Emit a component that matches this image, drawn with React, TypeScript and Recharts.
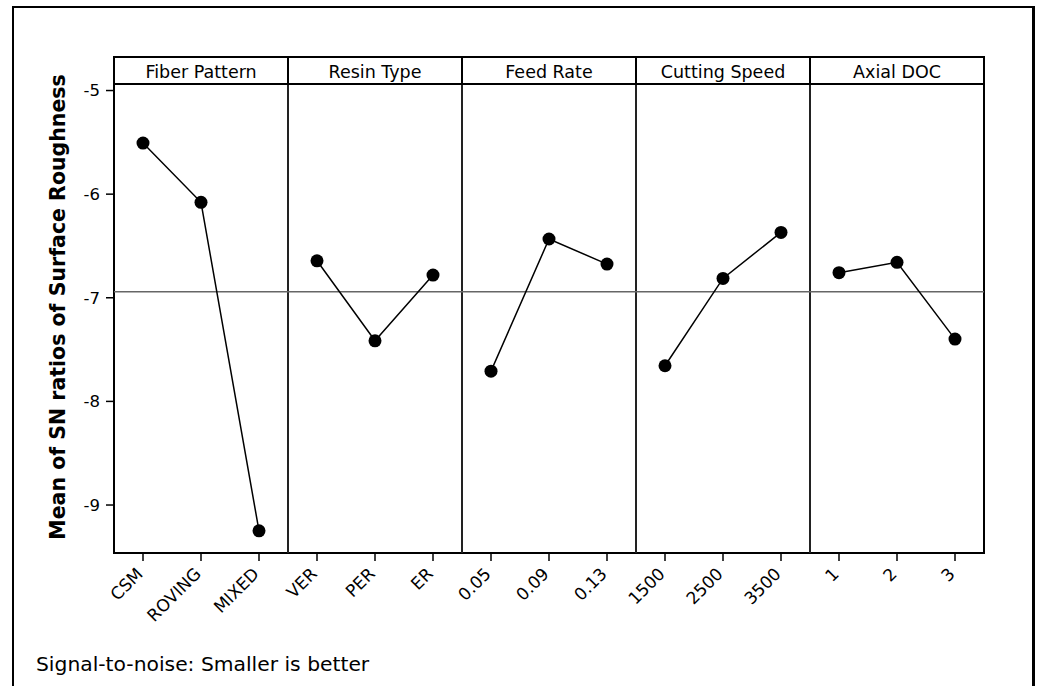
import React from 'react';
import { LineChart, Line, XAxis, YAxis, ReferenceLine, ReferenceArea } from 'recharts';

// ---- Data ----
const FACTORS = ['Fiber Pattern', 'Resin Type', 'Feed Rate', 'Cutting Speed', 'Axial DOC'];

const FIBER_LEVELS = ['CSM', 'ROVING', 'MIXED'];
const FIBER_SN = [-5.507, -6.079, -9.249];

const RESIN_LEVELS = ['VER', 'PER', 'ER'];
const RESIN_SN = [-6.643, -7.415, -6.781];

const FEED_LEVELS = ['0.05', '0.09', '0.13'];
const FEED_SN = [-7.708, -6.433, -6.675];

const SPEED_LEVELS = ['1500', '2500', '3500'];
const SPEED_SN = [-7.656, -6.813, -6.369];

const DOC_LEVELS = ['1', '2', '3'];
const DOC_SN = [-6.758, -6.658, -7.399];

const Y_TICKS = [-9, -8, -7, -6, -5];
const Y_DOMAIN: [number, number] = [-9.463, -4.937];

const Y_TITLE = 'Mean of SN ratios of Surface Roughness';
const FOOTNOTE = 'Signal-to-noise: Smaller is better';

// ---- Derived tables ----
const LEVELS = [FIBER_LEVELS, RESIN_LEVELS, FEED_LEVELS, SPEED_LEVELS, DOC_LEVELS];
const VALUES = [FIBER_SN, RESIN_SN, FEED_SN, SPEED_SN, DOC_SN];
const N_LEVELS = 3;
const X_MAX = FACTORS.length * N_LEVELS;

const seriesData = VALUES.map((vals, i) =>
  vals.map((v, j) => ({ x: i * N_LEVELS + j + 0.5, sn: v }))
);
const tickPositions = LEVELS.flatMap((lv, i) => lv.map((_, j) => i * N_LEVELS + j + 0.5));
const tickLabels = LEVELS.flat();
const headerPositions = FACTORS.map((_, i) => i * N_LEVELS + N_LEVELS / 2);
const dividers = FACTORS.slice(1).map((_, i) => (i + 1) * N_LEVELS);
const allValues = VALUES.flat();
const grandMean = allValues.reduce((a, b) => a + b, 0) / allValues.length;

// ---- Layout ----
const W = 1038;
const H = 686;
const MARGIN = { top: 57, right: 54, bottom: 73, left: 14 };
const Y_AXIS_W = 100;
const HEADER_H = 27;
const BOTTOM_AXIS_H = 60;
const PLOT_W = W - MARGIN.left - MARGIN.right - Y_AXIS_W;
const PANEL_W = PLOT_W / FACTORS.length;
const FONT = '"DejaVu Sans", Verdana, sans-serif';

const BottomTick = (props: any) => {
  const { x, y, payload } = props;
  const idx = Math.floor(payload.value);
  return (
    <g transform={`translate(${x + 1},${y + 12})`}>
      <text textAnchor="end" transform="rotate(-45)" fontSize={17} fill="#000" fontFamily={FONT}>
        {tickLabels[idx]}
      </text>
    </g>
  );
};

const HeaderTick = (props: any) => {
  const { x, y, payload } = props;
  const idx = Math.floor(payload.value / N_LEVELS);
  return (
    <g>
      <rect
        x={x - PANEL_W / 2}
        y={y - HEADER_H}
        width={PANEL_W}
        height={HEADER_H}
        fill="none"
        stroke="#000"
        strokeWidth={2}
      />
      <text x={x} y={y - 6} textAnchor="middle" fontSize={17.5} fill="#000" fontFamily={FONT}>
        {FACTORS[idx]}
      </text>
    </g>
  );
};

const YTitle = (props: any) => {
  const vb = props.viewBox || { x: MARGIN.left, y: 84, width: Y_AXIS_W, height: 469 };
  const cx = vb.x + 51;
  const cy = vb.y + vb.height / 2 - 11.5;
  return (
    <text
      transform={`translate(${cx},${cy}) rotate(-90)`}
      textAnchor="middle"
      fontSize={20.5}
      fontWeight="bold"
      fill="#000"
      fontFamily={FONT}
    >
      {Y_TITLE}
    </text>
  );
};

export default function App() {
  return (
    <div style={{ position: 'absolute', left: 0, top: 0, width: W, height: H, background: '#fff', fontFamily: FONT }}>
      <div
        style={{
          position: 'absolute',
          left: 12,
          top: 6,
          width: 1023,
          height: 680,
          boxSizing: 'border-box',
          borderLeft: '2px solid #000',
          borderTop: '2px solid #000',
          borderRight: '3px solid #000',
        }}
      />
      <div style={{ position: 'absolute', left: 0, top: 0 }}>
        <LineChart width={W} height={H} margin={MARGIN}>
          <XAxis
            xAxisId="bottom"
            dataKey="x"
            type="number"
            domain={[0, X_MAX]}
            allowDataOverflow
            ticks={tickPositions}
            interval={0}
            height={BOTTOM_AXIS_H}
            tickSize={8}
            tickMargin={2}
            axisLine={false}
            tickLine={{ stroke: '#000', strokeWidth: 1.5 }}
            tick={<BottomTick />}
          />
          <XAxis
            xAxisId="top"
            orientation="top"
            dataKey="x"
            type="number"
            domain={[0, X_MAX]}
            allowDataOverflow
            ticks={headerPositions}
            interval={0}
            height={HEADER_H}
            tickSize={0}
            tickMargin={0}
            axisLine={false}
            tickLine={false}
            tick={<HeaderTick />}
          />
          <YAxis
            type="number"
            domain={Y_DOMAIN}
            ticks={Y_TICKS}
            allowDataOverflow
            width={Y_AXIS_W}
            tickSize={8}
            tickMargin={6}
            axisLine={false}
            tickLine={{ stroke: '#000', strokeWidth: 1.5 }}
            tick={{ fontSize: 16.5, fill: '#000', fontFamily: FONT }}
            label={{ content: YTitle }}
          />
          <ReferenceArea
            xAxisId="bottom"
            x1={0}
            x2={X_MAX}
            y1={Y_DOMAIN[0]}
            y2={Y_DOMAIN[1]}
            fill="none"
            fillOpacity={0}
            stroke="#000"
            strokeWidth={2}
            strokeOpacity={1}
          />
          {dividers.map((d) => (
            <ReferenceLine key={d} xAxisId="bottom" x={d} stroke="#222" strokeWidth={2} />
          ))}
          <ReferenceLine xAxisId="bottom" y={grandMean} stroke="#666" strokeWidth={1.5} />
          {seriesData.map((data, i) => (
            <Line
              key={FACTORS[i]}
              xAxisId="bottom"
              data={data}
              dataKey="sn"
              type="linear"
              stroke="#000"
              strokeWidth={1.5}
              dot={{ r: 6.5, fill: '#000', stroke: 'none' }}
              activeDot={false}
              isAnimationActive={false}
            />
          ))}
        </LineChart>
      </div>
      <svg style={{ position: 'absolute', left: 0, top: 0 }} width={W} height={H}>
        <text x={36} y={671} fontSize={20.3} fill="#000" fontFamily={FONT}>
          {FOOTNOTE}
        </text>
      </svg>
    </div>
  );
}
